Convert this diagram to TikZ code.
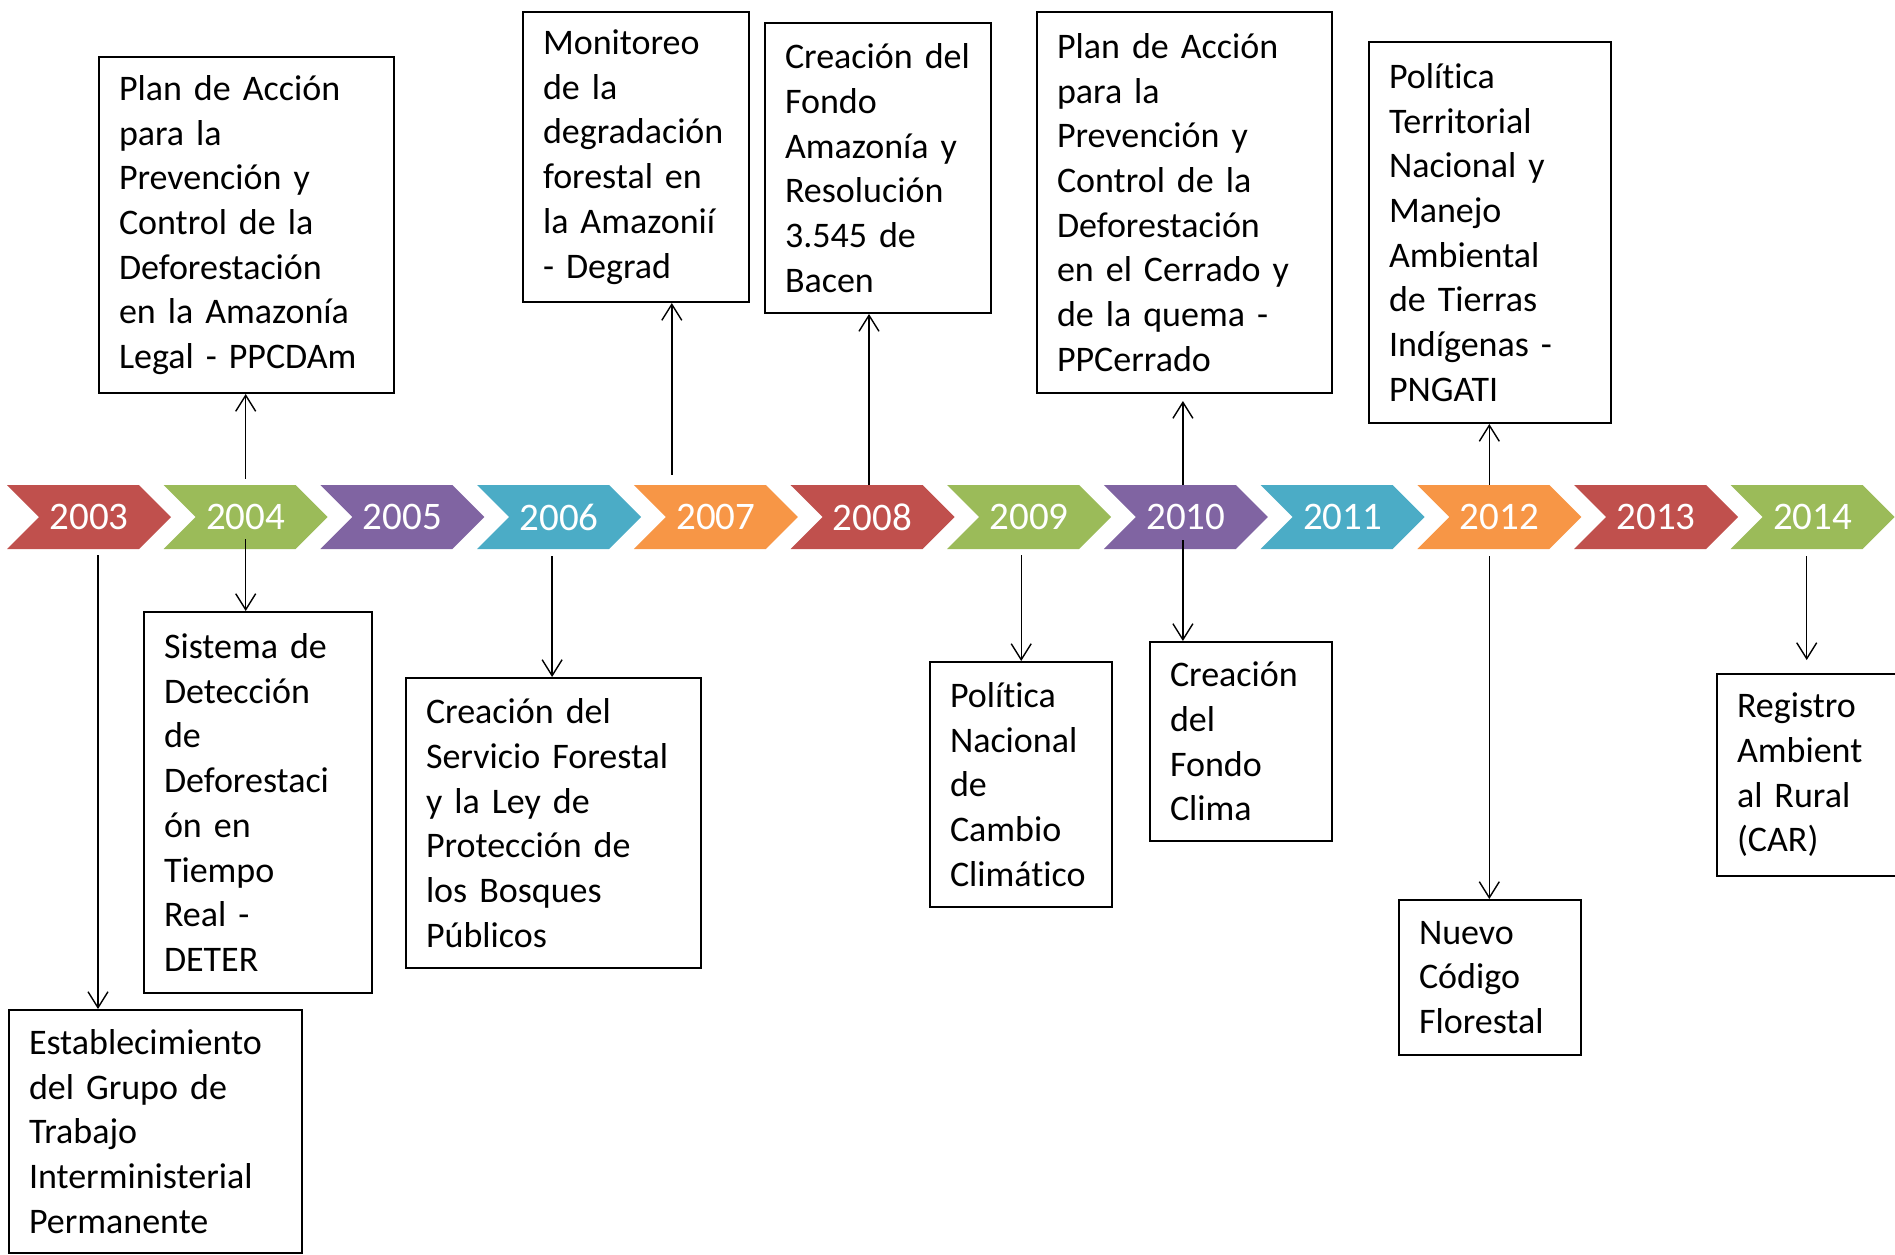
\documentclass[tikz,border=0pt]{standalone}
\usepackage{fontspec}
\setmainfont{Carlito}[Ligatures=NoCommon]
\usetikzlibrary{arrows.meta,shapes.symbols}
\definecolor{cRed}{HTML}{C0504D}
\definecolor{cGreen}{HTML}{9BBB59}
\definecolor{cPurple}{HTML}{8064A2}
\definecolor{cAqua}{HTML}{4BACC6}
\definecolor{cOrange}{HTML}{F79646}

\begin{document}
\begin{tikzpicture}[x=0.5pt,y=-0.5pt]
		\tikzstyle{yearblock} = [signal, signal from=west, signal to=east, minimum width=82pt, minimum height=32pt, inner sep=0pt, text=white, font=\fontsize{19.5}{19.5}\selectfont];
		\tikzstyle{eventbox} = [rectangle, draw, line width=1pt, anchor=north west, align=left, inner xsep=10pt, inner ysep=0pt, font=\fontsize{18}{22.35}\selectfont];
		\tikzstyle{mainpath} = [draw, line width=0.7pt, -{Straight Barb[length=8pt,width=10pt]}];
		\useasboundingbox (0,0) rectangle (1895,1254);
		\clip (0,0) rectangle (1895,1254);
		% timeline
		\foreach \yr/\col [count=\i from 0] in {2003/cRed, 2004/cGreen, 2005/cPurple, 2006/cAqua, 2007/cOrange, 2008/cRed, 2009/cGreen, 2010/cPurple, 2011/cAqua, 2012/cOrange, 2013/cRed, 2014/cGreen}
			\node (y\yr) [yearblock, fill=\col] at (89+156.7*\i, 517) {\yr};
		% events above
		\node (ppcdam) [eventbox, text width=127.5pt, minimum height=168pt] at (98,56) {Plan de Acción\\para la\\Prevención y\\Control de la\\Deforestación\\en la Amazonía\\Legal - PPCDAm};
		\node (degrad) [eventbox, text width=93pt, minimum height=145pt] at (522,11) {Monitoreo\\de la\\degradación\\forestal en\\la Amazonií\\- Degrad};
		\node (fondoam) [eventbox, text width=93pt, minimum height=145pt] at (764,22) {Creación del\\Fondo\\Amazonía y\\Resolución\\3.545 de\\Bacen};
		\node (ppcerrado) [eventbox, text width=127.5pt, minimum height=190.5pt] at (1036,11) {Plan de Acción\\para la\\Prevención y\\Control de la\\Deforestación\\en el Cerrado y\\de la quema -\\PPCerrado};
		\node (pngati) [eventbox, text width=101pt, minimum height=190.5pt] at (1368,41) {Política\\Territorial\\Nacional y\\Manejo\\Ambiental\\de Tierras\\Indígenas -\\PNGATI};
		% events below
		\node (grupo) [eventbox, text width=126.5pt, minimum height=121.5pt] at (8,1009) {Establecimiento\\del Grupo de\\Trabajo\\Interministerial\\Permanente};
		\node (deter) [eventbox, text width=94pt, minimum height=190.5pt] at (143,611) {Sistema de\\Detección\\de\\Deforestaci\\ón en\\Tiempo\\Real -\\DETER};
		\node (sfb) [eventbox, text width=127.5pt, minimum height=145pt] at (405,677) {Creación del\\Servicio Forestal\\y la Ley de\\Protección de\\los Bosques\\Públicos};
		\node (pnmc) [eventbox, text width=71pt, minimum height=122.5pt] at (929,661) {Política\\Nacional\\de\\Cambio\\Climático};
		\node (fclima) [eventbox, text width=71pt, minimum height=99.5pt] at (1149,641) {Creación\\del\\Fondo\\Clima};
		\node (codigo) [eventbox, text width=71pt, minimum height=77.5pt] at (1398,899) {Nuevo\\Código\\Florestal};
		\node (car) [eventbox, text width=71pt, minimum height=101pt] at (1716,673) {Registro\\Ambient\\al Rural\\(CAR)};
		% links
		\path [mainpath] ([shift={(4.5pt,-3pt)}]y2003.south) -- ([xshift=4.5pt]y2003.south |- grupo.north);
		\path [mainpath] ([yshift=3pt]y2004.north) -- (y2004.north |- ppcdam.south);
		\path [mainpath] ([yshift=5pt]y2004.south) -- (y2004.south |- deter.north);
		\path [mainpath] ([shift={(-3.5pt,-3.5pt)}]y2006.south) -- ([xshift=-3.5pt]y2006.south |- sfb.north);
		\path [mainpath] ([shift={(-22pt,5pt)}]y2007.north) -- ([xshift=-22pt]y2007.north |- degrad.south);
		\path [mainpath] ([xshift=-1.75pt]y2008.north) -- ([xshift=-1.75pt]y2008.north |- fondoam.south);
		\path [mainpath] ([shift={(-4pt,-3pt)}]y2009.south) -- ([xshift=-4pt]y2009.south |- pnmc.north);
		\path [mainpath, shorten >=3.5pt] ([xshift=-1.5pt]y2010.north) -- ([xshift=-1.5pt]y2010.north |- ppcerrado.south);
		\path [mainpath] ([shift={(-1.5pt,4.5pt)}]y2010.south) -- ([xshift=-1.5pt]y2010.south |- fclima.north);
		\path [mainpath] ([xshift=-5pt]y2012.north) -- ([xshift=-5pt]y2012.north |- pngati.south);
		\path [mainpath] ([shift={(-5pt,-3.5pt)}]y2012.south) -- ([xshift=-5pt]y2012.south |- codigo.north);
		\path [mainpath, shorten >=6.5pt] ([shift={(-3pt,-3.5pt)}]y2014.south) -- ([xshift=-3pt]y2014.south |- car.north);
	\end{tikzpicture}
\end{document}
